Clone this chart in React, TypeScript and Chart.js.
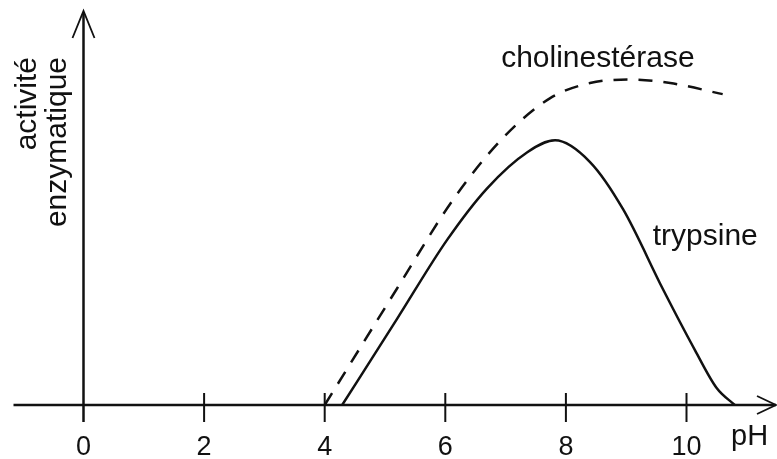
import React, { useEffect, useRef } from "react";
import { Chart, registerables } from "chart.js";

Chart.register(...registerables);

// pH values and enzymatic activity (arbitrary units, 0–100 scale)
const cholinPH = [4.0, 5.2, 6.13, 6.95, 7.74, 8.4, 9.05, 9.73, 10.6];
const cholinActivity = [0, 29.5, 52.0, 67.5, 77.7, 81.5, 82.4, 81.5, 78.7];

const trypsinPH = [4.29, 5.2, 6.03, 6.69, 7.36, 7.82, 8.4, 8.95, 9.61, 10.14, 10.5, 10.8];
const trypsinActivity = [0, 21.8, 41.8, 54.8, 64.0, 67.0, 61.5, 49.5, 29.3, 13.9, 4.3, 0];

const xTickValues = [0, 2, 4, 6, 8, 10];
const xTickLabels = ["0", "2", "4", "6", "8", "10"];

const seriesNames = ["cholinestérase", "trypsine"];
const xAxisTitle = "pH";
const yAxisTitleLines = ["activité", "enzymatique"];

const FONT = "'Liberation Sans', Arial, Helvetica, sans-serif";
const INK = "#111";

const axesPlugin = {
  id: "handDrawnAxes",
  afterDraw(chart: any) {
    const ctx = chart.ctx as CanvasRenderingContext2D;
    const xs = chart.scales.x;
    const ys = chart.scales.y;
    const x0 = xs.getPixelForValue(0);
    const y0 = ys.getPixelForValue(0);
    ctx.save();
    ctx.strokeStyle = INK;
    ctx.fillStyle = INK;
    ctx.lineCap = "butt";

    // x axis line
    ctx.lineWidth = 2.5;
    ctx.beginPath();
    ctx.moveTo(x0 - 70, y0);
    ctx.lineTo(776, y0);
    ctx.stroke();
    // x arrow (open)
    ctx.lineWidth = 1.8;
    ctx.beginPath();
    ctx.moveTo(757, y0 - 9);
    ctx.lineTo(776, y0);
    ctx.lineTo(757, y0 + 9);
    ctx.stroke();

    // y axis line
    ctx.lineWidth = 2.5;
    ctx.beginPath();
    ctx.moveTo(x0, y0 + 17);
    ctx.lineTo(x0, 12);
    ctx.stroke();
    // y arrow (open)
    ctx.lineWidth = 1.8;
    ctx.beginPath();
    ctx.moveTo(x0 - 11, 38);
    ctx.lineTo(x0, 11);
    ctx.lineTo(x0 + 11, 38);
    ctx.stroke();

    // ticks
    ctx.lineWidth = 2;
    xTickValues.forEach((v) => {
      if (v === 0) return;
      const px = xs.getPixelForValue(v);
      ctx.beginPath();
      ctx.moveTo(px, y0 - 12);
      ctx.lineTo(px, y0 + 17);
      ctx.stroke();
    });

    // tick labels
    ctx.font = `27px ${FONT}`;
    ctx.textAlign = "center";
    ctx.textBaseline = "alphabetic";
    xTickValues.forEach((v, i) => {
      const px = xs.getPixelForValue(v);
      ctx.fillText(xTickLabels[i], px, y0 + 50);
    });

    // x title
    ctx.font = `29px ${FONT}`;
    ctx.textAlign = "left";
    ctx.fillText(xAxisTitle, 731, y0 + 40);

    // series labels
    ctx.font = `30px ${FONT}`;
    ctx.textAlign = "center";
    ctx.fillText(seriesNames[0], xs.getPixelForValue(8.53), ys.getPixelForValue(85.6));
    ctx.textAlign = "left";
    ctx.fillText(seriesNames[1], xs.getPixelForValue(9.44), ys.getPixelForValue(40.5));

    // y title (rotated)
    ctx.font = `30px ${FONT}`;
    ctx.textAlign = "right";
    ctx.textBaseline = "alphabetic";
    ctx.save();
    ctx.translate(36, 57);
    ctx.rotate(-Math.PI / 2);
    ctx.fillText(yAxisTitleLines[0], 0, 0);
    ctx.restore();
    ctx.save();
    ctx.translate(66, 57);
    ctx.rotate(-Math.PI / 2);
    ctx.fillText(yAxisTitleLines[1], 0, 0);
    ctx.restore();

    ctx.restore();
  },
};

export default function App() {
  const canvasRef = useRef<HTMLCanvasElement | null>(null);

  useEffect(() => {
    if (!canvasRef.current) return;
    const chart = new Chart(canvasRef.current, {
      type: "line",
      data: {
        datasets: [
          {
            label: seriesNames[0],
            data: cholinPH.map((x, i) => ({ x, y: cholinActivity[i] })),
            borderColor: INK,
            borderWidth: 2.5,
            borderDash: [14, 11],
            pointRadius: 0,
            cubicInterpolationMode: "monotone",
            fill: false,
          },
          {
            label: seriesNames[1],
            data: trypsinPH.map((x, i) => ({ x, y: trypsinActivity[i] })),
            borderColor: INK,
            borderWidth: 2.5,
            pointRadius: 0,
            cubicInterpolationMode: "monotone",
            fill: false,
          },
        ],
      },
      options: {
        animation: false,
        responsive: false,
        devicePixelRatio: 1,
        layout: { padding: { left: 83.5, right: 30.2, top: 10, bottom: 54 } },
        plugins: { legend: { display: false }, tooltip: { enabled: false } },
        scales: {
          x: { type: "linear", min: 0, max: 11, display: false },
          y: { type: "linear", min: 0, max: 100, display: false },
        },
      },
      plugins: [axesPlugin],
    } as any);
    return () => chart.destroy();
  }, []);

  return (
    <div style={{ position: "fixed", left: 0, top: 0, width: 777, height: 459, background: "#fff" }}>
      <canvas ref={canvasRef} width={777} height={459} style={{ display: "block" }} />
    </div>
  );
}
